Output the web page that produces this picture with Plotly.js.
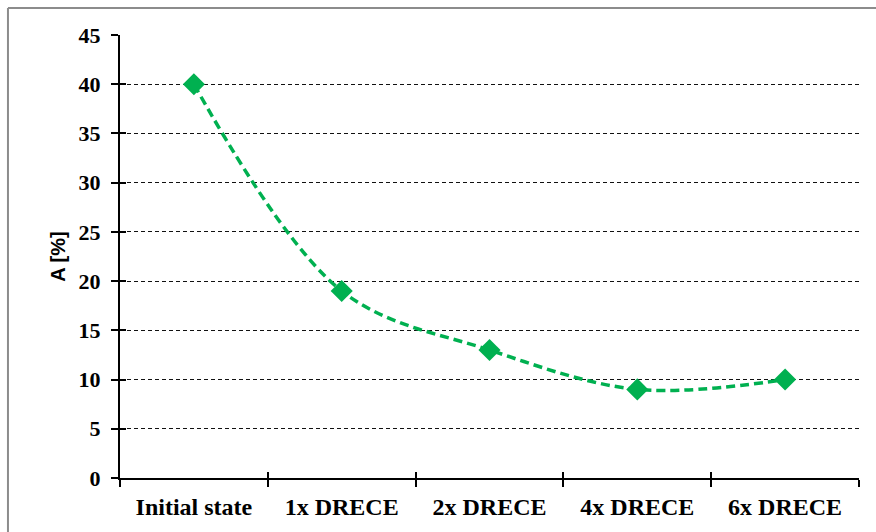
<!DOCTYPE html>
<html>
<head>
<meta charset="utf-8">
<script src="https://cdn.plot.ly/plotly-3.0.1.min.js"></script>
<style>
  html, body { margin: 0; padding: 0; background: #fff; }
  #chart { width: 876px; height: 532px; }
</style>
</head>
<body>
<div id="chart"></div>
<script>
const categories = ["Initial state", "1x DRECE", "2x DRECE", "4x DRECE", "6x DRECE"];
const values = [40, 19, 13, 9, 10];
const yTicks = [0, 5, 10, 15, 20, 25, 30, 35, 40, 45];
const yTitle = "A [%]";

const green = "#00B050";
const serif = "Liberation Serif";

const trace = {
  x: categories,
  y: values,
  type: "scatter",
  mode: "lines+markers",
  line: { color: green, width: 3.5, dash: "9px,5px", shape: "spline", smoothing: 1 },
  marker: { symbol: "diamond", size: 17, color: green },
  hoverinfo: "x+y",
  showlegend: false
};

const helper = {
  x: categories, y: values, xaxis: "x2", yaxis: "y2",
  type: "scatter", mode: "markers", marker: { opacity: 0, size: 1 },
  hoverinfo: "skip", showlegend: false
};

const layout = {
  width: 876, height: 532,
  margin: { l: 120, r: 17, t: 35, b: 54 },
  paper_bgcolor: "#fff",
  plot_bgcolor: "#fff",
  font: { family: serif, size: 22, color: "#000" },
  xaxis: {
    type: "category",
    categoryorder: "array", categoryarray: categories,
    range: [-0.5, 4.5],
    tickson: "boundaries",
    ticks: "outside", ticklen: 7, tickwidth: 2, tickcolor: "#000",
    showline: true, linecolor: "#000", linewidth: 2,
    showgrid: false, zeroline: false,
    ticklabelstandoff: 6,
    tickfont: { family: serif, size: 24, color: "#000", weight: "bold" },
    fixedrange: true
  },
  yaxis: {
    range: [0, 45],
    tickvals: yTicks,
    ticks: "outside", ticklen: 7, tickwidth: 2, tickcolor: "#000",
    showline: true, linecolor: "#000", linewidth: 2,
    showgrid: true, gridcolor: "#111", gridwidth: 1, griddash: "4px,3px",
    zeroline: false,
    ticklabelstandoff: 6,
    tickfont: { family: serif, size: 22, color: "#000", weight: "bold" },
    title: { text: yTitle, font: { family: "Liberation Sans", size: 20, color: "#000", weight: "bold" }, standoff: 8 },
    fixedrange: true
  },
  xaxis2: {
    type: "category", overlaying: "x",
    categoryorder: "array", categoryarray: categories,
    range: [-0.5, 4.5], tickson: "boundaries",
    ticks: "inside", ticklen: 6, tickwidth: 2, tickcolor: "#000",
    showticklabels: false, showgrid: false, zeroline: false, showline: false,
    fixedrange: true
  },
  yaxis2: {
    overlaying: "y", range: [0, 45], tickvals: yTicks,
    ticks: "inside", ticklen: 6, tickwidth: 2, tickcolor: "#000",
    showticklabels: false, showgrid: false, zeroline: false, showline: false,
    fixedrange: true
  },
  shapes: [
    { type: "line", xref: "paper", yref: "paper", x0: -0.1516, x1: 1.1, y0: 1.061, y1: 1.061,
      line: { color: "#8c8c8c", width: 2 } },
    { type: "line", xref: "paper", yref: "paper", x0: -0.1516, x1: -0.1516, y0: -0.2, y1: 1.061,
      line: { color: "#8c8c8c", width: 2 } }
  ]
};

Plotly.newPlot("chart", [helper, trace], layout, { displayModeBar: false });
</script>
</body>
</html>
